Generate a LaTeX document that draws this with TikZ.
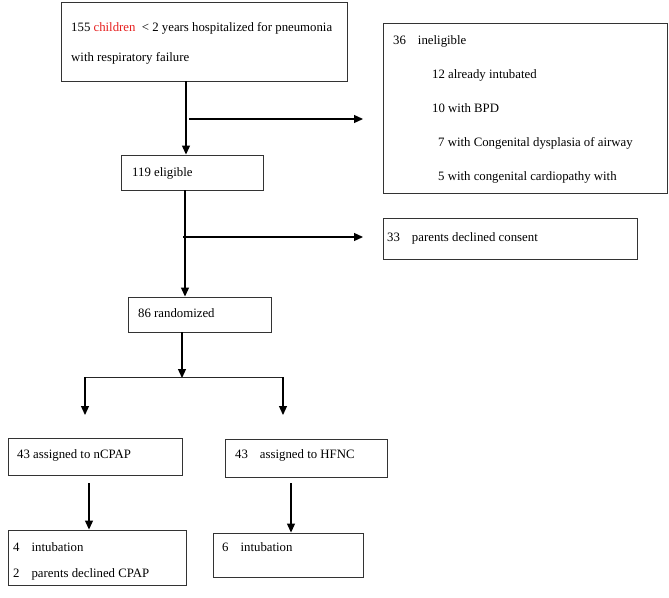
\documentclass[tikz,border=0pt]{standalone}
\usepackage{fontspec}
\setmainfont{Liberation Serif}
\usetikzlibrary{arrows.meta}
\definecolor{kidred}{RGB}{230,30,30}
\begin{document}
\begin{tikzpicture}[x=1pt,y=-1pt,
  box/.style={draw=black!80, line width=0.9pt, rectangle, inner sep=0pt},
  txt/.style={anchor=base west, inner sep=0pt, font=\fontsize{12.8}{15}\selectfont},
  arr/.style={line width=1.2pt, -{Triangle[length=9pt,width=8pt]}},
  ln/.style={line width=0.9pt, black!85}]
\useasboundingbox (0,0) rectangle (669,597);
% boxes
\node[box, minimum width=286pt, minimum height=79pt] (b1) at (204,41.5) {};
\node[box, minimum width=284pt, minimum height=170pt] (bin) at (525,108) {};
\node[box, minimum width=142pt, minimum height=35pt] (b119) at (192,172.5) {};
\node[box, minimum width=254pt, minimum height=41pt] (b33) at (510,238.5) {};
\node[box, minimum width=143pt, minimum height=35pt] (b86) at (199.5,314.5) {};
\node[box, minimum width=174pt, minimum height=37pt] (bcp) at (95,456.5) {};
\node[box, minimum width=162pt, minimum height=38pt] (bhf) at (306,458) {};
\node[box, minimum width=178pt, minimum height=55pt] (b4) at (97,557.5) {};
\node[box, minimum width=150pt, minimum height=44pt] (b6) at (288,555) {};
% texts
\node[txt] (t1) at (71,31) {155 \textcolor{kidred}{children}\ \ \textless\ 2 years hospitalized for pneumonia};
\node[txt] (t2) at (71,61) {with respiratory failure};
\node[txt] (t3) at (393,44) {36\hspace{12pt}ineligible};
\node[txt] (t4) at (432,78) {12 already intubated};
\node[txt] (t5) at (432,112) {10 with BPD};
\node[txt] (t6) at (438,146) {7 with Congenital dysplasia of airway};
\node[txt] (t7) at (438,180) {5 with congenital cardiopathy with};
\node[txt] (t8) at (132,176) {119 eligible};
\node[txt] (t9) at (387,241) {33\hspace{12pt}parents declined consent};
\node[txt] (t10) at (138,317) {86 randomized};
\node[txt] (t11) at (17,458) {43 assigned to nCPAP};
\node[txt] (t12) at (235,458) {43\hspace{12pt}assigned to HFNC};
\node[txt] (t13) at (13,551) {4\hspace{12pt}intubation};
\node[txt] (t14) at (13,577) {2\hspace{12pt}parents declined CPAP};
\node[txt] (t15) at (222,551) {6\hspace{12pt}intubation};
% coordinates
\coordinate (x1) at (186,0);
\coordinate (x3) at (185,0);
\coordinate (h1s) at (189,119);
\coordinate (h1e) at (363,119);
\coordinate (h2s) at (183,237);
\coordinate (h2e) at (363,237);
\coordinate (x5) at (182,0);
\coordinate (sp) at (182,378);
\coordinate (sl) at (85,377);
\coordinate (sr) at (283,377);
\coordinate (el) at (85,415);
\coordinate (er) at (283,415);
\coordinate (ls) at (89,483);
\coordinate (rs) at (291,483);
% connectors
\draw[arr] (b1.south -| x1) -- (b119.north -| x1);
\draw[arr] (h1s) -- (h1e);
\draw[arr] (b119.south -| x3) -- (b86.north -| x3);
\draw[arr] (h2s) -- (h2e);
\draw[arr] (b86.south -| x5) -- (sp);
\draw[ln] (sl) -- (sr);
\draw[arr] (sl) -- (el);
\draw[arr] (sr) -- (er);
\draw[arr] (ls) -- (ls |- b4.north);
\draw[arr] (rs) -- (rs |- b6.north);
\end{tikzpicture}
\end{document}
